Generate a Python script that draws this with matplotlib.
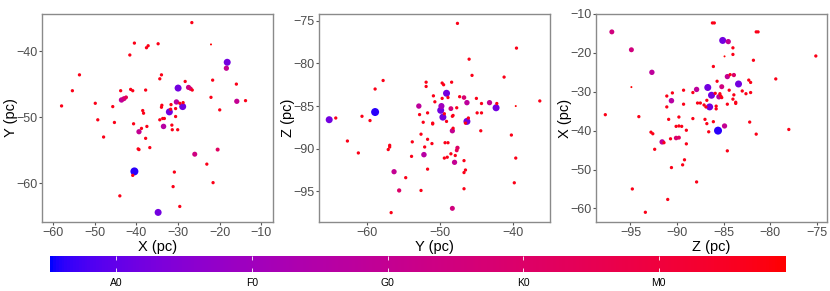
import numpy as np
import matplotlib
matplotlib.use("Agg")
import matplotlib.pyplot as plt
from matplotlib.colors import ListedColormap, Normalize
from matplotlib.cm import ScalarMappable

plt.rcParams['font.family'] = ['Liberation Sans', 'DejaVu Sans']

# spectral type coded numerically: A0=20, F0=30, G0=40, K0=50, M0=60
spec_ticks = [20, 30, 40, 50, 60]
spec_labels = ['A0', 'F0', 'G0', 'K0', 'M0']
spec_min, spec_max = 15.1, 69.4

# panel 1: X vs Y
p1_x = [-26.7, -40.5, -37.6, -37.2, -34.8, -22.1, -41.6, -18.2, -18.4, -53.7,
        -34.0, -34.4, -28.3, -21.7, -16.0, -55.4, -43.8, -41.4, -40.9, -37.8,
        -30.0, -27.5, -27.0, -26.6, -22.1, -43.6, -43.0, -42.5, -15.9, -13.8,
        -58.0, -49.9, -45.7, -33.9, -34.0, -31.7, -28.9, -30.4, -29.6, -28.8,
        -32.1, -31.8, -30.6, -20.0, -38.5, -38.3, -49.3, -34.4, -33.7, -33.3,
        -30.6, -33.5, -31.5, -30.1, -31.4, -37.5, -38.8, -40.7, -45.3, -39.4,
        -47.9, -37.8, -39.6, -39.4, -36.8, -26.0, -20.5, -23.1, -30.9, -40.5,
        -40.9, -21.6, -31.2, -44.0, -29.6, -34.8]
p1_y = [-35.7, -38.8, -39.5, -39.2, -38.9, -39.0, -40.6, -41.7, -42.6, -43.6,
        -43.6, -44.2, -44.6, -44.4, -45.0, -46.0, -46.0, -45.8, -46.0, -45.9,
        -45.6, -45.5, -45.7, -45.9, -47.0, -47.4, -47.2, -47.0, -47.6, -47.5,
        -48.3, -47.9, -48.4, -48.2, -48.5, -48.1, -48.4, -47.7, -47.9, -47.8,
        -49.2, -48.8, -48.7, -48.9, -49.0, -49.4, -50.4, -50.4, -50.2, -50.2,
        -49.9, -51.4, -51.2, -51.9, -51.9, -51.4, -51.7, -51.0, -50.8, -52.2,
        -53.0, -53.2, -54.8, -54.9, -54.6, -55.6, -54.9, -57.1, -58.3, -58.2,
        -58.8, -59.9, -60.5, -61.9, -63.5, -64.4]
p1_spec = [67, 67, 67, 67, 67, 69, 67, 22, 40, 67,
           67, 67, 67, 67, 67, 67, 67, 67, 67, 67,
           22, 42, 50, 67, 67, 38, 45, 55, 40, 67,
           67, 67, 67, 67, 67, 67, 22, 38, 67, 67,
           22, 67, 67, 67, 67, 67, 67, 67, 67, 67,
           67, 36, 67, 67, 67, 67, 67, 67, 67, 40,
           67, 67, 67, 67, 67, 44, 52, 67, 67, 16,
           67, 67, 67, 67, 67, 22]

# panel 2: Y vs Z
p2_x = [-47.6, -39.5, -46.0, -45.6, -41.2, -57.8, -51.9, -51.9, -49.7, -49.5,
        -48.4, -58.9, -49.1, -50.9, -49.7, -48.9, -47.3, -46.7, -45.0, -36.3,
        -50.7, -46.3, -43.2, -42.2, -42.3, -44.3, -52.9, -49.9, -49.8, -48.5,
        -47.7, -39.6, -58.9, -65.2, -64.3, -60.7, -59.6, -52.8, -51.7, -49.6,
        -49.4, -48.2, -46.3, -46.1, -46.5, -44.9, -44.3, -52.3, -51.0, -51.0,
        -49.1, -48.3, -44.4, -48.2, -48.3, -52.6, -40.2, -62.7, -51.7, -53.8,
        -51.1, -49.3, -48.9, -47.6, -47.7, -56.9, -56.9, -57.1, -61.2, -52.2,
        -53.9, -52.1, -48.5, -47.9, -49.4, -49.0, -39.6, -46.7, -48.0, -51.7,
        -56.3, -46.5, -46.7, -54.7, -39.8, -55.6, -52.6, -46.7, -48.3, -56.7]
p2_y = [-75.3, -78.2, -79.5, -81.4, -81.6, -82.0, -82.2, -82.7, -82.3, -82.5,
        -82.2, -83.0, -83.5, -83.8, -84.1, -84.0, -83.9, -84.0, -84.1, -84.4,
        -84.5, -84.6, -84.6, -84.7, -85.2, -84.7, -85.0, -85.5, -85.0, -85.3,
        -85.2, -85.0, -85.7, -86.6, -86.4, -86.2, -86.7, -86.0, -85.8, -86.3,
        -85.9, -86.1, -86.8, -86.4, -87.0, -85.8, -85.8, -86.9, -87.0, -87.1,
        -86.8, -86.2, -87.9, -87.6, -87.9, -88.3, -88.4, -89.1, -88.9, -89.2,
        -89.4, -89.3, -89.3, -89.9, -90.2, -89.6, -89.8, -90.1, -90.5, -90.7,
        -90.9, -89.8, -90.6, -90.8, -91.1, -91.0, -91.1, -91.4, -91.6, -92.4,
        -92.7, -92.5, -92.8, -93.4, -94.0, -94.9, -94.9, -94.7, -97.0, -97.5]
p2_spec = [67, 67, 67, 67, 67, 67, 67, 67, 67, 67,
           67, 67, 22, 67, 67, 67, 67, 48, 67, 67,
           67, 38, 40, 67, 22, 67, 38, 22, 30, 46,
           67, 69, 16, 22, 67, 67, 67, 67, 67, 22,
           67, 67, 22, 67, 67, 67, 67, 67, 67, 67,
           67, 67, 67, 67, 40, 67, 67, 67, 67, 67,
           67, 67, 67, 50, 55, 67, 67, 67, 67, 36,
           67, 67, 67, 67, 67, 67, 67, 67, 40, 67,
           40, 67, 67, 67, 67, 50, 67, 67, 45, 67]

# panel 3: Z vs X
p3_x = [-86.2, -86.0, -81.3, -81.5, -97.0, -85.1, -84.5, -84.0, -94.9, -84.0,
        -84.9, -75.1, -81.8, -86.1, -92.7, -84.3, -83.9, -84.6, -79.4, -82.3,
        -82.1, -83.4, -85.7, -85.2, -86.7, -87.9, -94.9, -89.3, -84.4, -83.0,
        -82.6, -82.1, -86.3, -85.5, -85.3, -85.2, -85.9, -83.9, -85.4, -90.5,
        -91.1, -88.3, -90.6, -91.1, -89.3, -87.8, -87.5, -87.1, -86.8, -86.5,
        -86.9, -85.8, -85.8, -84.6, -84.0, -83.7, -83.7, -97.7, -94.1, -90.9,
        -89.8, -88.3, -87.0, -86.8, -86.1, -82.2, -90.1, -89.8, -89.5, -84.9,
        -85.6, -86.6, -89.0, -78.0, -92.8, -92.6, -81.5, -90.7, -90.1, -89.8,
        -91.6, -91.4, -89.0, -92.4, -84.6, -89.2, -89.4, -90.6, -87.9, -94.8,
        -91.0, -93.4]
p3_y = [-12.3, -12.3, -14.6, -14.6, -14.6, -16.8, -17.1, -18.7, -19.2, -20.4,
        -20.9, -20.8, -21.9, -23.5, -25.0, -25.6, -25.7, -26.1, -26.7, -27.0,
        -27.6, -28.0, -27.3, -28.7, -28.9, -29.4, -28.8, -29.6, -29.6, -29.8,
        -30.5, -30.2, -30.9, -31.3, -31.1, -31.5, -30.4, -30.8, -30.5, -30.3,
        -31.1, -30.2, -32.3, -33.9, -33.2, -32.9, -32.9, -33.4, -32.2, -33.9,
        -33.9, -33.7, -34.4, -33.2, -31.9, -32.7, -33.0, -35.9, -36.4, -37.1,
        -36.5, -36.9, -37.1, -38.2, -37.7, -37.8, -38.9, -38.8, -38.9, -38.8,
        -40.0, -40.3, -39.9, -39.7, -40.4, -40.8, -40.9, -42.1, -41.9, -41.8,
        -42.9, -43.1, -43.4, -44.8, -45.2, -47.5, -48.8, -49.5, -53.2, -55.0,
        -57.7, -61.0]
p3_spec = [67, 67, 67, 67, 45, 22, 40, 67, 45, 67,
           69, 67, 67, 67, 38, 67, 50, 40, 67, 67,
           67, 22, 67, 45, 22, 38, 69, 67, 67, 67,
           67, 67, 22, 38, 67, 67, 67, 67, 67, 67,
           67, 67, 36, 67, 67, 67, 67, 67, 67, 22,
           67, 67, 67, 67, 67, 67, 67, 67, 67, 67,
           67, 67, 67, 67, 67, 67, 67, 67, 67, 40,
           16, 67, 67, 67, 67, 67, 67, 67, 48, 52,
           38, 67, 67, 67, 67, 67, 67, 67, 67, 67,
           67, 67]

panels = [
    (p1_x, p1_y, p1_spec, 'X (pc)', 'Y (pc)', (-62.7, -7.2), (-65.85, -34.4), [-60, -50, -40, -30, -20, -10], [-60, -50, -40]),
    (p2_x, p2_y, p2_spec, 'Y (pc)', 'Z (pc)', (-66.6, -34.9), (-98.6, -74.2), [-60, -50, -40], [-95, -90, -85, -80, -75]),
    (p3_x, p3_y, p3_spec, 'Z (pc)', 'X (pc)', (-98.7, -73.9), (-63.5, -10.1), [-95, -90, -85, -80, -75], [-60, -50, -40, -30, -20, -10]),
]


# blue -> red gradient interpolated in CIE Lab, like ggplot's scale_colour_gradient
def _to_lab(rgb):
    c = np.asarray(rgb, float)
    lin = np.where(c <= 0.04045, c / 12.92, ((c + 0.055) / 1.055) ** 2.4)
    m = np.array([[0.4124, 0.3576, 0.1805], [0.2126, 0.7152, 0.0722], [0.0193, 0.1192, 0.9505]])
    xyz = m @ lin / np.array([0.95047, 1.0, 1.08883])
    f = np.where(xyz > (6 / 29) ** 3, np.cbrt(xyz), xyz / (3 * (6 / 29) ** 2) + 4 / 29)
    return np.array([116 * f[1] - 16, 500 * (f[0] - f[1]), 200 * (f[1] - f[2])])


def _from_lab(lab):
    L, a, b = lab
    fy = (L + 16) / 116
    fx = fy + a / 500
    fz = fy - b / 200
    f = np.array([fx, fy, fz])
    xyz = np.where(f > 6 / 29, f ** 3, 3 * (6 / 29) ** 2 * (f - 4 / 29)) * np.array([0.95047, 1.0, 1.08883])
    minv = np.linalg.inv(np.array([[0.4124, 0.3576, 0.1805], [0.2126, 0.7152, 0.0722], [0.0193, 0.1192, 0.9505]]))
    lin = np.clip(minv @ xyz, 0, 1)
    c = np.where(lin <= 0.0031308, lin * 12.92, 1.055 * lin ** (1 / 2.4) - 0.055)
    return np.clip(c, 0, 1)


lab_lo = _to_lab([0, 0, 1])
lab_hi = _to_lab([1, 0, 0])
cols = [_from_lab(lab_lo + t * (lab_hi - lab_lo)) for t in np.linspace(0, 1, 256)]
cmap = ListedColormap(cols)
norm = Normalize(spec_min, spec_max)


def marker_size(spec):
    d_px = np.interp(spec, [16, 22, 36, 45, 52, 67, 69], [8, 7, 5.5, 5, 4, 3.3, 2])
    return (d_px * 0.72) ** 2


fig = plt.figure(figsize=(8.3, 2.91), dpi=100)
lefts = [42, 319, 596]
for left, (xs, ys, sp, xl, yl, xlim, ylim, xt, yt) in zip(lefts, panels):
    ax = fig.add_axes([left / 830, 69 / 291, 231 / 830, 208 / 291])
    xs, ys, sp = np.array(xs), np.array(ys), np.array(sp)
    order = np.argsort(-marker_size(sp), kind='stable')
    ax.scatter(xs[order], ys[order], c=sp[order], cmap=cmap, norm=norm,
               s=marker_size(sp[order]), linewidths=0)
    ax.set_xlim(*xlim)
    ax.set_ylim(*ylim)
    ax.set_xticks(xt)
    ax.set_yticks(yt)
    ax.set_xticklabels([f'\u2212{abs(v)}' for v in xt])
    ax.set_yticklabels([f'\u2212{abs(v)}' for v in yt])
    ax.tick_params(length=2.5, width=0.8, color='#555555', labelcolor='#4d4d4d',
                   labelsize=9, pad=1)
    for s in ax.spines.values():
        s.set_color('#8a8a8a')
        s.set_linewidth(1.0)
    ax.set_xlabel(xl, fontsize=10.5, color='black', labelpad=1)
    ax.set_ylabel(yl, fontsize=10.5, color='black', labelpad=-1.2)

cax = fig.add_axes([50 / 830, 19 / 291, 736 / 830, 16 / 291])
cb = fig.colorbar(ScalarMappable(norm=norm, cmap=cmap), cax=cax, orientation='horizontal')
cb.outline.set_visible(False)
cb.set_ticks(spec_ticks)
cb.set_ticklabels(spec_labels)
cax.xaxis.set_ticks_position('both')
cax.tick_params(axis='x', direction='in', length=3, width=0.6, color='white',
                labelcolor='black', labelsize=7.5, pad=4, labeltop=False)

fig.savefig('out.png', dpi=100)
